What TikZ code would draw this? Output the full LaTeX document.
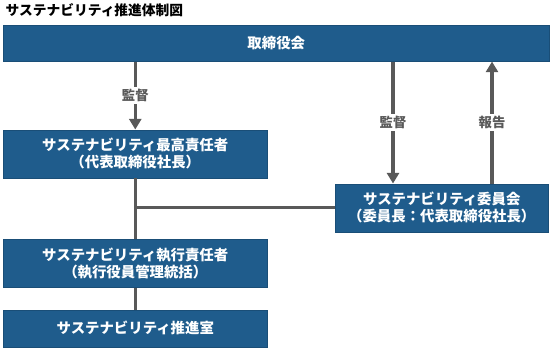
\documentclass[tikz,border=0pt]{standalone}
\usepackage{fontspec}
\setmainfont{Noto Sans CJK JP}
\usetikzlibrary{positioning, arrows.meta, calc}
\definecolor{boxblue}{RGB}{31,92,140}
\definecolor{linegray}{RGB}{89,89,89}

\begin{document}
\begin{tikzpicture}[x=0.75pt, y=-0.75pt, node distance=45.75pt]
        \tikzstyle{org} = [rectangle, draw=boxblue!85!black, fill=boxblue, text=white, text centered, inner sep=0pt, font=\bfseries\fontsize{10.8}{12.9}\selectfont]
        \tikzstyle{post} = [org, text width=198pt, minimum height=36pt]
        \tikzstyle{tag} = [fill=white, inner sep=1.5pt, font=\bfseries\fontsize{10}{12}\selectfont]
        \tikzstyle{link} = [linegray, line width=2.4pt]
        \tikzstyle{arrow} = [link, -{Triangle[width=9pt, length=8pt]}]

        \useasboundingbox (0,0) rectangle (552,349);

        \node [anchor=west, font=\bfseries\fontsize{10.3}{12}\selectfont] (title) at (1,10) {サステナビリティ推進体制図};
        \node [org, text width=409.5pt, minimum height=27pt, anchor=north west] (board) at (3,25) {取締役会};
        \node [post, below=51pt of board.south west, anchor=north west] (cso) {サステナビリティ最高責任者\\（代表取締役社長）};
        \node [post, below=of cso.south west, anchor=north west] (exec) {サステナビリティ執行責任者\\（執行役員管理統括）};
        \node [post, minimum height=27.75pt, below=16.5pt of exec.south west, anchor=north west] (office) {サステナビリティ推進室};
        \node [org, text width=159.75pt, minimum height=36pt, below=91.5pt of board.south east, anchor=north east, xshift=-0.75pt] (committee) {サステナビリティ委員会\\（委員長：代表取締役社長）};

        \coordinate (supv) at ([xshift=43.5pt]committee.north west);
        \coordinate (rept) at ([xshift=117.75pt]committee.north west);

        \draw [arrow] (board.south -| cso.north) -- node [tag] {監督} (cso.north);
        \draw [link] (cso) -- (exec);
        \draw [link] (exec) -- (office);
        \draw [link] (committee.west) -- (committee.west -| cso.south);
        \draw [arrow] (supv |- board.south) -- node [tag] {監督} (supv);
        \draw [arrow] (rept) -- node [tag] {報告} (rept |- board.south);
    \end{tikzpicture}
\end{document}
